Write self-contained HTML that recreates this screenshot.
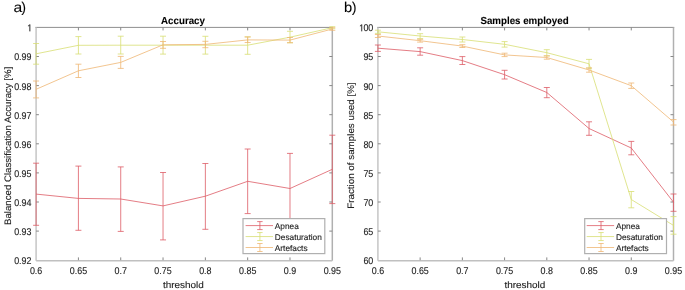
<!DOCTYPE html>
<html><head><meta charset="utf-8"><style>
html,body{margin:0;padding:0;background:#fff;width:685px;height:290px;overflow:hidden}
svg{display:block;will-change:transform;filter:blur(0.35px)}
text{text-rendering:geometricPrecision;font-family:"Liberation Sans",sans-serif;fill:#222;stroke:#222;stroke-width:0.12px}
.tk{font-size:9.8px}
.lb{font-size:9.4px}
.lg{font-size:8.3px}
.tt{font-size:10.2px;font-weight:bold;fill:#000}
.pl{font-size:14px;fill:#000}
</style></head><body>
<svg width="685" height="290" viewBox="0 0 685 290">
<path d="M35.35,27.4H333.05" stroke="#8e8e8e" stroke-width="1.0" fill="none"/>
<path d="M36.1,27.4V260.7" stroke="#c9c9c9" stroke-width="1.6" fill="none"/>
<path d="M332.3,27.4V260.7" stroke="#b0b0b0" stroke-width="1.5" fill="none"/>
<path d="M36.1,260.7H332.3" stroke="#c0c0c0" stroke-width="1.6" fill="none"/>
<path d="M78.41,260.2v-2.8M78.41,27.4v3M120.73,260.2v-2.8M120.73,27.4v3M163.04,260.2v-2.8M163.04,27.4v3M205.36,260.2v-2.8M205.36,27.4v3M247.67,260.2v-2.8M247.67,27.4v3M289.99,260.2v-2.8M289.99,27.4v3M36.1,231.10h2.8M332.3,231.10h-3M36.1,202.00h2.8M332.3,202.00h-3M36.1,172.90h2.8M332.3,172.90h-3M36.1,143.80h2.8M332.3,143.80h-3M36.1,114.70h2.8M332.3,114.70h-3M36.1,85.60h2.8M332.3,85.60h-3M36.1,56.50h2.8M332.3,56.50h-3" stroke="#888888" stroke-width="1" fill="none"/>
<text transform="translate(36.10,274.00) scale(0.91,1)" text-anchor="middle" class="tk">0.6</text>
<text transform="translate(78.41,274.00) scale(0.91,1)" text-anchor="middle" class="tk">0.65</text>
<text transform="translate(120.73,274.00) scale(0.91,1)" text-anchor="middle" class="tk">0.7</text>
<text transform="translate(163.04,274.00) scale(0.91,1)" text-anchor="middle" class="tk">0.75</text>
<text transform="translate(205.36,274.00) scale(0.91,1)" text-anchor="middle" class="tk">0.8</text>
<text transform="translate(247.67,274.00) scale(0.91,1)" text-anchor="middle" class="tk">0.85</text>
<text transform="translate(289.99,274.00) scale(0.91,1)" text-anchor="middle" class="tk">0.9</text>
<text transform="translate(332.30,274.00) scale(0.91,1)" text-anchor="middle" class="tk">0.95</text>
<text transform="translate(31.50,264.10) scale(0.91,1)" text-anchor="end" class="tk">0.92</text>
<text transform="translate(31.50,235.00) scale(0.91,1)" text-anchor="end" class="tk">0.93</text>
<text transform="translate(31.50,205.90) scale(0.91,1)" text-anchor="end" class="tk">0.94</text>
<text transform="translate(31.50,176.80) scale(0.91,1)" text-anchor="end" class="tk">0.95</text>
<text transform="translate(31.50,147.70) scale(0.91,1)" text-anchor="end" class="tk">0.96</text>
<text transform="translate(31.50,118.60) scale(0.91,1)" text-anchor="end" class="tk">0.97</text>
<text transform="translate(31.50,89.50) scale(0.91,1)" text-anchor="end" class="tk">0.98</text>
<text transform="translate(31.50,60.40) scale(0.91,1)" text-anchor="end" class="tk">0.99</text>
<path transform="translate(27.24,31.30) scale(0.00435,-0.00479)" d="M515 0V1237L197 1010V1180L530 1409H696V0Z" fill="#1a1a1a" stroke="#1a1a1a" stroke-width="31.3"/>
<text transform="translate(183.40,287.60) scale(1.06,1)" text-anchor="middle" class="lb">threshold</text>
<text transform="translate(183.00,24.00) scale(0.955,1)" text-anchor="middle" class="tt">Accuracy</text>
<path d="M36.10,163.20V225.30M33.10,163.20H39.10M33.10,225.30H39.10M78.41,166.10V230.30M75.41,166.10H81.41M75.41,230.30H81.41M120.73,166.90V231.40M117.73,166.90H123.73M117.73,231.40H123.73M163.04,172.50V239.90M160.04,172.50H166.04M160.04,239.90H166.04M205.36,163.50V229.30M202.36,163.50H208.36M202.36,229.30H208.36M247.67,149.00V213.60M244.67,149.00H250.67M244.67,213.60H250.67M289.99,153.40V223.60M286.99,153.40H292.99M286.99,223.60H292.99M332.30,135.20V203.60M329.30,135.20H335.30M329.30,203.60H335.30" stroke="#dd5c66" stroke-width="0.8" fill="none"/>
<polyline points="36.10,194.10 78.41,198.40 120.73,199.00 163.04,205.90 205.36,196.20 247.67,181.30 289.99,188.50 332.30,169.30" stroke="#dd5c66" stroke-width="0.8" fill="none"/>
<path d="M36.10,43.50V64.20M33.10,43.50H39.10M33.10,64.20H39.10M78.41,36.60V54.00M75.41,36.60H81.41M75.41,54.00H81.41M120.73,36.20V54.00M117.73,36.20H123.73M117.73,54.00H123.73M163.04,36.20V54.10M160.04,36.20H166.04M160.04,54.10H166.04M205.36,36.30V54.10M202.36,36.30H208.36M202.36,54.10H208.36M247.67,36.80V54.30M244.67,36.80H250.67M244.67,54.30H250.67M289.99,31.30V42.80M286.99,31.30H292.99M286.99,42.80H292.99M332.30,26.70V28.70M329.30,26.70H335.30M329.30,28.70H335.30" stroke="#d8de74" stroke-width="0.8" fill="none"/>
<polyline points="36.10,53.80 78.41,45.30 120.73,45.20 163.04,45.20 205.36,45.20 247.67,45.20 289.99,37.20 332.30,27.70" stroke="#d8de74" stroke-width="0.8" fill="none"/>
<path d="M36.10,81.00V97.90M33.10,81.00H39.10M33.10,97.90H39.10M78.41,64.20V77.50M75.41,64.20H81.41M75.41,77.50H81.41M120.73,56.40V68.40M117.73,56.40H123.73M117.73,68.40H123.73M163.04,41.50V48.30M160.04,41.50H166.04M160.04,48.30H166.04M205.36,41.30V47.70M202.36,41.30H208.36M202.36,47.70H208.36M247.67,37.00V42.50M244.67,37.00H250.67M244.67,42.50H250.67M289.99,37.50V42.70M286.99,37.50H292.99M286.99,42.70H292.99M332.30,27.70V30.30M329.30,27.70H335.30M329.30,30.30H335.30" stroke="#efb674" stroke-width="0.8" fill="none"/>
<polyline points="36.10,89.30 78.41,70.80 120.73,62.40 163.04,44.80 205.36,44.40 247.67,39.90 289.99,40.10 332.30,29.00" stroke="#efb674" stroke-width="0.8" fill="none"/>
<rect x="243.0" y="218.6" width="81.8" height="35.0" fill="#fff" stroke="#b0b0b0" stroke-width="1.2"/>
<path d="M245.6,225.6H273.0M259.9,221.6V229.6M257.2,221.6h5.4M257.2,229.6h5.4" stroke="#dd5c66" stroke-width="0.8" fill="none"/>
<text transform="translate(274.80,228.60)" class="lg">Apnea</text>
<path d="M245.6,236.54999999999998H273.0M259.9,232.54999999999998V240.54999999999998M257.2,232.54999999999998h5.4M257.2,240.54999999999998h5.4" stroke="#d8de74" stroke-width="0.8" fill="none"/>
<text transform="translate(274.80,239.55)" class="lg">Desaturation</text>
<path d="M245.6,247.5H273.0M259.9,243.5V251.5M257.2,243.5h5.4M257.2,251.5h5.4" stroke="#efb674" stroke-width="0.8" fill="none"/>
<text transform="translate(274.80,250.50)" class="lg">Artefacts</text>
<path d="M377.15,27.4H674.25" stroke="#8e8e8e" stroke-width="1.0" fill="none"/>
<path d="M377.9,27.4V260.7" stroke="#c9c9c9" stroke-width="1.6" fill="none"/>
<path d="M673.5,27.4V260.7" stroke="#b0b0b0" stroke-width="1.5" fill="none"/>
<path d="M377.9,260.7H673.5" stroke="#c0c0c0" stroke-width="1.6" fill="none"/>
<path d="M420.13,260.2v-2.8M420.13,27.4v3M462.36,260.2v-2.8M462.36,27.4v3M504.59,260.2v-2.8M504.59,27.4v3M546.81,260.2v-2.8M546.81,27.4v3M589.04,260.2v-2.8M589.04,27.4v3M631.27,260.2v-2.8M631.27,27.4v3M377.9,231.10h2.8M673.5,231.10h-3M377.9,202.00h2.8M673.5,202.00h-3M377.9,172.90h2.8M673.5,172.90h-3M377.9,143.80h2.8M673.5,143.80h-3M377.9,114.70h2.8M673.5,114.70h-3M377.9,85.60h2.8M673.5,85.60h-3M377.9,56.50h2.8M673.5,56.50h-3" stroke="#888888" stroke-width="1" fill="none"/>
<text transform="translate(377.90,274.00) scale(0.91,1)" text-anchor="middle" class="tk">0.6</text>
<text transform="translate(420.13,274.00) scale(0.91,1)" text-anchor="middle" class="tk">0.65</text>
<text transform="translate(462.36,274.00) scale(0.91,1)" text-anchor="middle" class="tk">0.7</text>
<text transform="translate(504.59,274.00) scale(0.91,1)" text-anchor="middle" class="tk">0.75</text>
<text transform="translate(546.81,274.00) scale(0.91,1)" text-anchor="middle" class="tk">0.8</text>
<text transform="translate(589.04,274.00) scale(0.91,1)" text-anchor="middle" class="tk">0.85</text>
<text transform="translate(631.27,274.00) scale(0.91,1)" text-anchor="middle" class="tk">0.9</text>
<text transform="translate(673.50,274.00) scale(0.91,1)" text-anchor="middle" class="tk">0.95</text>
<text transform="translate(373.30,264.10) scale(0.91,1)" text-anchor="end" class="tk">60</text>
<text transform="translate(373.30,235.00) scale(0.91,1)" text-anchor="end" class="tk">65</text>
<text transform="translate(373.30,205.90) scale(0.91,1)" text-anchor="end" class="tk">70</text>
<text transform="translate(373.30,176.80) scale(0.91,1)" text-anchor="end" class="tk">75</text>
<text transform="translate(373.30,147.70) scale(0.91,1)" text-anchor="end" class="tk">80</text>
<text transform="translate(373.30,118.60) scale(0.91,1)" text-anchor="end" class="tk">85</text>
<text transform="translate(373.30,89.50) scale(0.91,1)" text-anchor="end" class="tk">90</text>
<text transform="translate(373.30,60.40) scale(0.91,1)" text-anchor="end" class="tk">95</text>
<path transform="translate(359.12,31.30) scale(0.00435,-0.00479)" d="M515 0V1237L197 1010V1180L530 1409H696V0Z" fill="#1a1a1a" stroke="#1a1a1a" stroke-width="31.3"/>
<text transform="translate(373.30,31.30) scale(0.91,1)" text-anchor="end" class="tk">00</text>
<text transform="translate(524.90,287.60) scale(1.06,1)" text-anchor="middle" class="lb">threshold</text>
<text transform="translate(524.50,24.00) scale(0.955,1)" text-anchor="middle" class="tt">Samples employed</text>
<path d="M377.90,45.00V51.40M374.90,45.00H380.90M374.90,51.40H380.90M420.13,47.80V55.20M417.13,47.80H423.13M417.13,55.20H423.13M462.36,56.60V64.50M459.36,56.60H465.36M459.36,64.50H465.36M504.59,70.30V79.00M501.59,70.30H507.59M501.59,79.00H507.59M546.81,87.50V97.70M543.81,87.50H549.81M543.81,97.70H549.81M589.04,121.80V135.30M586.04,121.80H592.04M586.04,135.30H592.04M631.27,141.40V154.80M628.27,141.40H634.27M628.27,154.80H634.27M673.50,194.00V211.30M670.50,194.00H676.50M670.50,211.30H676.50" stroke="#dd5c66" stroke-width="0.8" fill="none"/>
<polyline points="377.90,48.20 420.13,51.60 462.36,60.60 504.59,74.70 546.81,92.50 589.04,128.50 631.27,148.00 673.50,202.20" stroke="#dd5c66" stroke-width="0.8" fill="none"/>
<path d="M377.90,30.20V33.40M374.90,30.20H380.90M374.90,33.40H380.90M420.13,33.70V38.60M417.13,33.70H423.13M417.13,38.60H423.13M462.36,37.00V42.00M459.36,37.00H465.36M459.36,42.00H465.36M504.59,41.60V47.10M501.59,41.60H507.59M501.59,47.10H507.59M546.81,49.70V55.80M543.81,49.70H549.81M543.81,55.80H549.81M589.04,59.40V68.20M586.04,59.40H592.04M586.04,68.20H592.04M631.27,191.50V207.80M628.27,191.50H634.27M628.27,207.80H634.27M673.50,216.60V234.20M670.50,216.60H676.50M670.50,234.20H676.50" stroke="#d8de74" stroke-width="0.8" fill="none"/>
<polyline points="377.90,31.80 420.13,36.00 462.36,39.50 504.59,44.30 546.81,52.70 589.04,63.80 631.27,199.50 673.50,225.40" stroke="#d8de74" stroke-width="0.8" fill="none"/>
<path d="M377.90,34.50V37.50M374.90,34.50H380.90M374.90,37.50H380.90M420.13,39.30V42.10M417.13,39.30H423.13M417.13,42.10H423.13M462.36,44.70V47.50M459.36,44.70H465.36M459.36,47.50H465.36M504.59,53.20V56.60M501.59,53.20H507.59M501.59,56.60H507.59M546.81,55.90V59.20M543.81,55.90H549.81M543.81,59.20H549.81M589.04,67.90V72.20M586.04,67.90H592.04M586.04,72.20H592.04M631.27,83.00V88.40M628.27,83.00H634.27M628.27,88.40H634.27M673.50,119.60V125.00M670.50,119.60H676.50M670.50,125.00H676.50" stroke="#efb674" stroke-width="0.8" fill="none"/>
<polyline points="377.90,36.00 420.13,40.70 462.36,46.10 504.59,54.90 546.81,57.50 589.04,70.00 631.27,85.70 673.50,122.00" stroke="#efb674" stroke-width="0.8" fill="none"/>
<rect x="584.7" y="218.6" width="81.8" height="35.0" fill="#fff" stroke="#b0b0b0" stroke-width="1.2"/>
<path d="M586.7,225.6H614.1M601.0,221.6V229.6M598.3,221.6h5.4M598.3,229.6h5.4" stroke="#dd5c66" stroke-width="0.8" fill="none"/>
<text transform="translate(615.90,228.60)" class="lg">Apnea</text>
<path d="M586.7,236.54999999999998H614.1M601.0,232.54999999999998V240.54999999999998M598.3,232.54999999999998h5.4M598.3,240.54999999999998h5.4" stroke="#d8de74" stroke-width="0.8" fill="none"/>
<text transform="translate(615.90,239.55)" class="lg">Desaturation</text>
<path d="M586.7,247.5H614.1M601.0,243.5V251.5M598.3,243.5h5.4M598.3,251.5h5.4" stroke="#efb674" stroke-width="0.8" fill="none"/>
<text transform="translate(615.90,250.50)" class="lg">Artefacts</text>
<text transform="translate(10.60,145.85) rotate(-90) scale(1.03,1)" text-anchor="middle" class="lb">Balanced Classification Accuracy [%]</text>
<text transform="translate(353.80,145.60) rotate(-90) scale(1.045,1)" text-anchor="middle" class="lb">Fraction of samples used [%]</text>
<text transform="translate(13.60,12.20) scale(1.12,1)" class="pl">a</text>
<text transform="translate(21.40,12.20) scale(0.95,1)" class="pl">)</text>
<text transform="translate(344.00,12.20) scale(1.05,1)" class="pl">b</text>
<text transform="translate(351.90,12.20) scale(0.95,1)" class="pl">)</text>
</svg>
</body></html>
